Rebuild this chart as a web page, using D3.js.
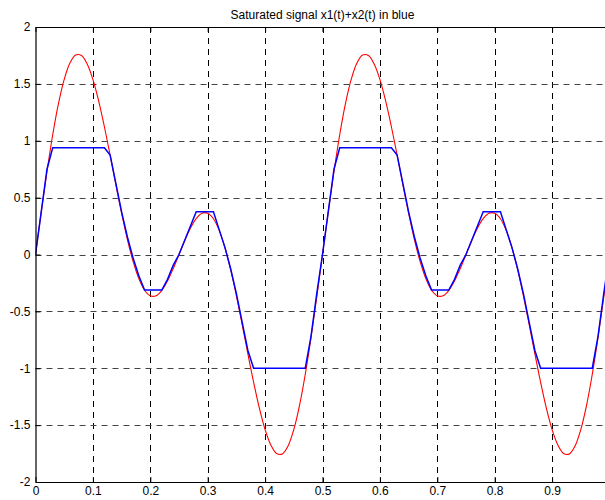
<!DOCTYPE html>
<html>
<head>
<meta charset="utf-8">
<script src="https://cdn.jsdelivr.net/npm/d3@7"></script>
<style>
  body { margin: 0; background: #fff; }
  svg { display: block; font-family: "Liberation Sans", Arial, sans-serif; }
</style>
</head>
<body>
<div id="chart"></div>
<script>
// sample times (s)
const tValues = [
  0.00, 0.01, 0.02, 0.03, 0.04, 0.05, 0.06, 0.07, 0.08, 0.09,
  0.10, 0.11, 0.12, 0.13, 0.14, 0.15, 0.16, 0.17, 0.18, 0.19,
  0.20, 0.21, 0.22, 0.23, 0.24, 0.25, 0.26, 0.27, 0.28, 0.29,
  0.30, 0.31, 0.32, 0.33, 0.34, 0.35, 0.36, 0.37, 0.38, 0.39,
  0.40, 0.41, 0.42, 0.43, 0.44, 0.45, 0.46, 0.47, 0.48, 0.49,
  0.50, 0.51, 0.52, 0.53, 0.54, 0.55, 0.56, 0.57, 0.58, 0.59,
  0.60, 0.61, 0.62, 0.63, 0.64, 0.65, 0.66, 0.67, 0.68, 0.69,
  0.70, 0.71, 0.72, 0.73, 0.74, 0.75, 0.76, 0.77, 0.78, 0.79,
  0.80, 0.81, 0.82, 0.83, 0.84, 0.85, 0.86, 0.87, 0.88, 0.89,
  0.90, 0.91, 0.92, 0.93, 0.94, 0.95, 0.96, 0.97, 0.98, 0.99,
  1.00
];

// x1(t)+x2(t), red
const sumSignal = [
  0, 0.374, 0.731, 1.053, 1.326, 1.539, 1.683, 1.753, 1.749, 1.675,
  1.539, 1.350, 1.123, 0.873, 0.614, 0.363, 0.134, -0.061, -0.212, -0.314,
  -0.363, -0.363, -0.316, -0.233, -0.123, 0, 0.123, 0.233, 0.316, 0.363,
  0.363, 0.314, 0.212, 0.061, -0.134, -0.363, -0.614, -0.873, -1.123, -1.350,
  -1.539, -1.675, -1.749, -1.753, -1.683, -1.539, -1.326, -1.053, -0.731, -0.374,
  0, 0.374, 0.731, 1.053, 1.326, 1.539, 1.683, 1.753, 1.749, 1.675,
  1.539, 1.350, 1.123, 0.873, 0.614, 0.363, 0.134, -0.061, -0.212, -0.314,
  -0.363, -0.363, -0.316, -0.233, -0.123, 0, 0.123, 0.233, 0.316, 0.363,
  0.363, 0.314, 0.212, 0.061, -0.134, -0.363, -0.614, -0.873, -1.123, -1.350,
  -1.539, -1.675, -1.749, -1.753, -1.683, -1.539, -1.326, -1.053, -0.731, -0.374,
  0
];

// saturated / quantized signal, blue
const satSignal = [
  0, 0.375, 0.75, 0.9375, 0.9375, 0.9375, 0.9375, 0.9375, 0.9375, 0.9375,
  0.9375, 0.9375, 0.9375, 0.875, 0.625, 0.375, 0.15625, -0.03125, -0.1875, -0.3125,
  -0.3125, -0.3125, -0.3125, -0.21875, -0.09375, 0, 0.125, 0.25, 0.375, 0.375,
  0.375, 0.375, 0.21875, 0.0625, -0.125, -0.34375, -0.59375, -0.84375, -1, -1,
  -1, -1, -1, -1, -1, -1, -1, -1, -0.71875, -0.34375,
  0, 0.375, 0.75, 0.9375, 0.9375, 0.9375, 0.9375, 0.9375, 0.9375, 0.9375,
  0.9375, 0.9375, 0.9375, 0.875, 0.625, 0.375, 0.15625, -0.03125, -0.1875, -0.3125,
  -0.3125, -0.3125, -0.3125, -0.21875, -0.09375, 0, 0.125, 0.25, 0.375, 0.375,
  0.375, 0.375, 0.21875, 0.0625, -0.125, -0.34375, -0.59375, -0.84375, -1, -1,
  -1, -1, -1, -1, -1, -1, -1, -1, -0.71875, -0.34375,
  0
];

const xTicks = [0, 0.1, 0.2, 0.3, 0.4, 0.5, 0.6, 0.7, 0.8, 0.9, 1];
const xTickLabels = ["0", "0.1", "0.2", "0.3", "0.4", "0.5", "0.6", "0.7", "0.8", "0.9", ""];
const yTicks = [-2, -1.5, -1, -0.5, 0, 0.5, 1, 1.5, 2];
const yTickLabels = ["-2", "-1.5", "-1", "-0.5", "0", "0.5", "1", "1.5", "2"];

const width = 605, height = 500;
const margin = { top: 27, left: 35.5, right: 609.5, bottom: 482 };

const svg = d3.select("#chart").append("svg")
  .attr("width", width)
  .attr("height", height);

const x = d3.scaleLinear().domain([0, 1]).range([margin.left, margin.right]);
const y = d3.scaleLinear().domain([-2, 2]).range([margin.bottom, margin.top]);

svg.append("defs").append("clipPath")
  .attr("id", "plotClip")
  .append("rect")
  .attr("x", margin.left)
  .attr("y", margin.top)
  .attr("width", margin.right - margin.left)
  .attr("height", margin.bottom - margin.top);

// grid
const grid = svg.append("g").attr("class", "grid");
grid.selectAll(".vgrid")
  .data(xTicks.slice(1, -1))
  .join("line")
  .attr("class", "vgrid")
  .attr("x1", d => Math.round(x(d)) + 0.5)
  .attr("x2", d => Math.round(x(d)) + 0.5)
  .attr("y1", margin.top)
  .attr("y2", margin.bottom)
  .attr("stroke", "#000")
  .attr("stroke-dasharray", "6,5");

grid.selectAll(".hgrid")
  .data(yTicks.slice(1, -1))
  .join("line")
  .attr("class", "hgrid")
  .attr("x1", margin.left)
  .attr("x2", margin.right)
  .attr("y1", d => Math.round(y(d)) + 0.5)
  .attr("y2", d => Math.round(y(d)) + 0.5)
  .attr("stroke", "#444")
  .attr("stroke-dasharray", "6,5");

// signals
const plot = svg.append("g").attr("clip-path", "url(#plotClip)");

const redLine = d3.line()
  .x((d, i) => x(tValues[i]))
  .y(d => y(d))
  .curve(d3.curveCatmullRom.alpha(0.5));

const blueLine = d3.line()
  .x((d, i) => x(tValues[i]))
  .y(d => y(d));

plot.append("path")
  .datum(sumSignal)
  .attr("d", redLine)
  .attr("fill", "none")
  .attr("stroke", "#ff0000")
  .attr("stroke-width", 1.1);

plot.append("path")
  .datum(satSignal)
  .attr("d", blueLine)
  .attr("fill", "none")
  .attr("stroke", "#0000ff")
  .attr("stroke-width", 1.5);

// axes (ticks inward, like matlab)
const xAxisBottom = d3.axisBottom(x)
  .tickValues(xTicks)
  .tickFormat((d, i) => xTickLabels[i])
  .tickSizeInner(-5)
  .tickSizeOuter(0)
  .tickPadding(4);

const xAxisTop = d3.axisTop(x)
  .tickValues(xTicks)
  .tickFormat("")
  .tickSizeInner(-5)
  .tickSizeOuter(0);

const yAxisLeft = d3.axisLeft(y)
  .tickValues(yTicks)
  .tickFormat((d, i) => yTickLabels[i])
  .tickSizeInner(-5)
  .tickSizeOuter(0)
  .tickPadding(5);

svg.append("g")
  .attr("transform", `translate(0,${margin.bottom})`)
  .call(xAxisBottom);

svg.append("g")
  .attr("transform", `translate(0,${margin.top})`)
  .call(xAxisTop);

svg.append("g")
  .attr("transform", `translate(${margin.left},0)`)
  .call(yAxisLeft);

svg.selectAll(".domain").attr("stroke", "#000").attr("stroke-width", 1.2);
svg.selectAll(".tick line").attr("stroke", "#000");
svg.selectAll(".tick text")
  .attr("fill", "#000")
  .style("font-size", "12px")
  .style("font-family", "'Liberation Sans', Arial, sans-serif");

svg.append("text")
  .attr("x", (margin.left + margin.right) / 2)
  .attr("y", 19)
  .attr("text-anchor", "middle")
  .style("font-size", "12px")
  .text("Saturated signal x1(t)+x2(t) in blue");
</script>
</body>
</html>
